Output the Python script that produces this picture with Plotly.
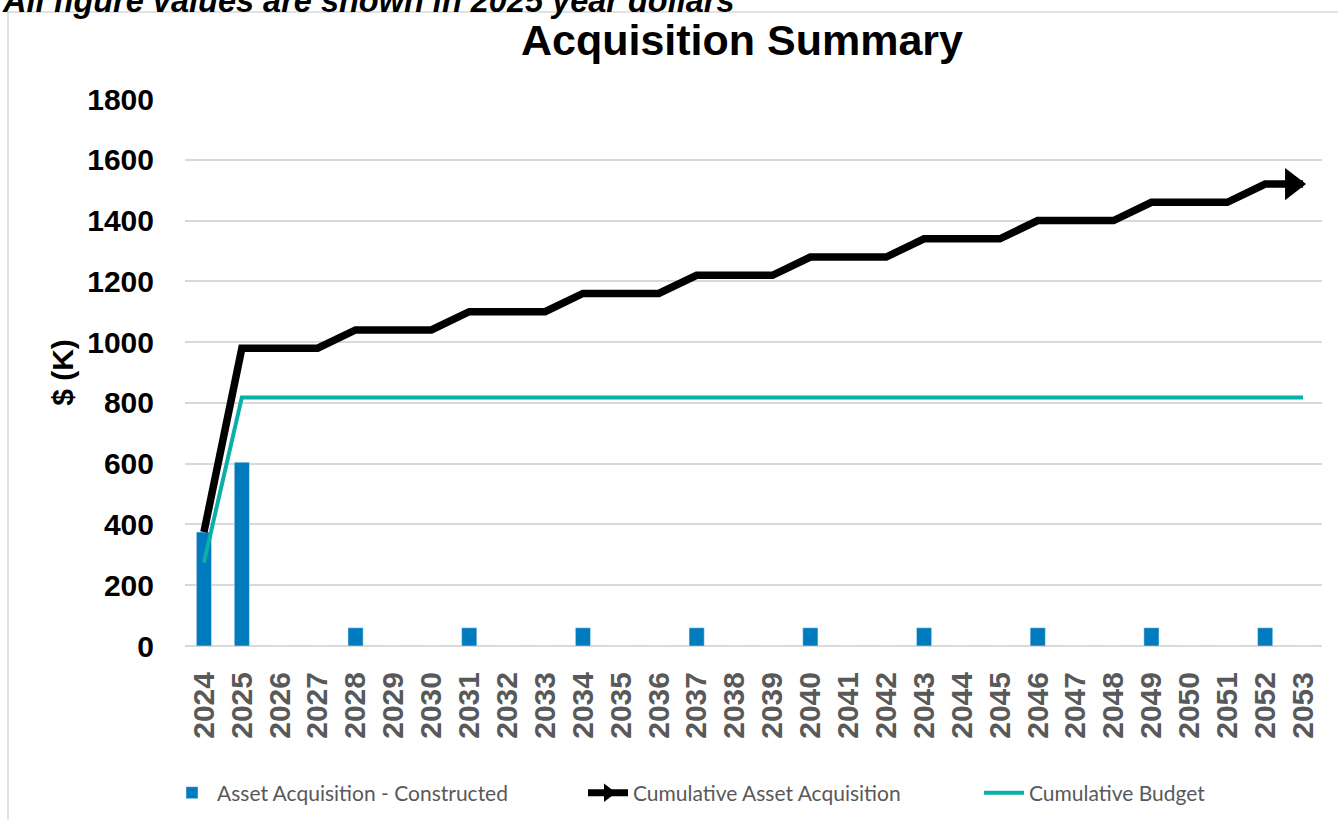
import plotly.graph_objects as go

years = [str(y) for y in range(2024, 2054)]
constructed = [375, 605, 0, 0, 60, 0, 0, 60, 0, 0, 60, 0, 0, 60, 0, 0, 60, 0, 0, 60, 0, 0, 60, 0, 0, 60, 0, 0, 60, 0]
cumulative = [375, 980, 980, 980, 1040, 1040, 1040, 1100, 1100, 1100, 1160, 1160, 1160, 1220, 1220, 1220,
              1280, 1280, 1280, 1340, 1340, 1340, 1400, 1400, 1400, 1460, 1460, 1460, 1520, 1520]
budget = [275] + [818] * 29
y_ticks = [0, 200, 400, 600, 800, 1000, 1200, 1400, 1600, 1800]

BAR = "#007BBD"
TEAL = "#0AB0A8"
GRID = "#D9D9D9"
AX = "Liberation Sans, Arial, sans-serif"
LEG = "Lato, Carlito, sans-serif"

W, H = 1338, 820
ML, MR, MT, MB = 185, 16, 99, 174
pw = W - ML - MR
ph = H - MT - MB

def px_x(p):
    return (p - ML) / pw

def px_y(p):
    return (H - MB - p) / ph

fig = go.Figure()
fig.add_trace(go.Bar(x=years, y=constructed, marker_color=BAR, name="Asset Acquisition - Constructed",
                     legendwidth=361))
n = len(years)
fig.add_trace(go.Scatter(x=years, y=cumulative, mode="lines+markers", showlegend=False,
                         line=dict(color="black", width=7.5),
                         marker=dict(symbol=["circle"] * (n - 1) + ["triangle-up"],
                                     size=[0] * (n - 1) + [28],
                                     angle=[0] * (n - 1) + [90],
                                     standoff=[0] * (n - 1) + [11],
                                     color="black", opacity=1, line=dict(width=0))))
fig.add_trace(go.Scatter(x=[None], y=[None], mode="lines+markers", name="Cumulative Asset Acquisition",
                         line=dict(color="black", width=7),
                         marker=dict(symbol="triangle-right", size=16, color="black"),
                         legendwidth=341))
fig.add_trace(go.Scatter(x=years, y=budget, mode="lines", name="Cumulative Budget",
                         line=dict(color=TEAL, width=4)))

fig.update_layout(
    width=W, height=H,
    margin=dict(l=ML, r=MR, t=MT, b=MB, autoexpand=False),
    paper_bgcolor="white", plot_bgcolor="white",
    bargap=0.6,
    title=dict(text="<b>Acquisition Summary</b>", x=742 / W, xanchor="center",
               y=1 - 40 / H, yanchor="middle", font=dict(family=AX, size=43, color="black")),
    xaxis=dict(type="category", range=[-0.5, len(years) - 0.5], tickmode="array", tickvals=years,
               ticktext=years, tickangle=-90, ticklabelstandoff=19, showgrid=False,
               tickfont=dict(family=AX, size=30, color="#595959", weight="bold"),
               showline=False, zeroline=False),
    yaxis=dict(range=[0, 1800], tickvals=y_ticks, ticktext=[str(v) for v in y_ticks],
               showgrid=True, gridcolor=GRID, gridwidth=1.5, zeroline=True, zerolinecolor=GRID,
               zerolinewidth=1.5, ticklabelstandoff=30,
               tickfont=dict(family=AX, size=30, color="black", weight="bold"),
               title=dict(text="<b>$ (K)</b>", standoff=4, font=dict(family=AX, size=30, color="black"))),
    legend=dict(orientation="h", x=px_x(167), xanchor="left", y=px_y(793), yanchor="middle",
                font=dict(family=LEG, size=21, color="#595959"), itemwidth=40,
                bgcolor="rgba(0,0,0,0)"),
    showlegend=True,
)

fig.add_shape(type="rect", xref="paper", yref="paper",
              x0=px_x(8), x1=px_x(1350), y0=px_y(12), y1=px_y(840),
              line=dict(color=GRID, width=1.5), fillcolor="rgba(0,0,0,0)", layer="below")

fig.add_annotation(text="<b><i>All figure values are shown in 2025 year dollars</i></b>",
                   xref="paper", yref="paper", x=px_x(0), xanchor="left",
                   y=px_y(1), yanchor="middle", showarrow=False,
                   font=dict(family=AX, size=32.5, color="black"))

fig.write_html("out.html", config={"displayModeBar": False},
               post_script="document.body.style.margin='0';document.body.style.overflow='hidden';")
